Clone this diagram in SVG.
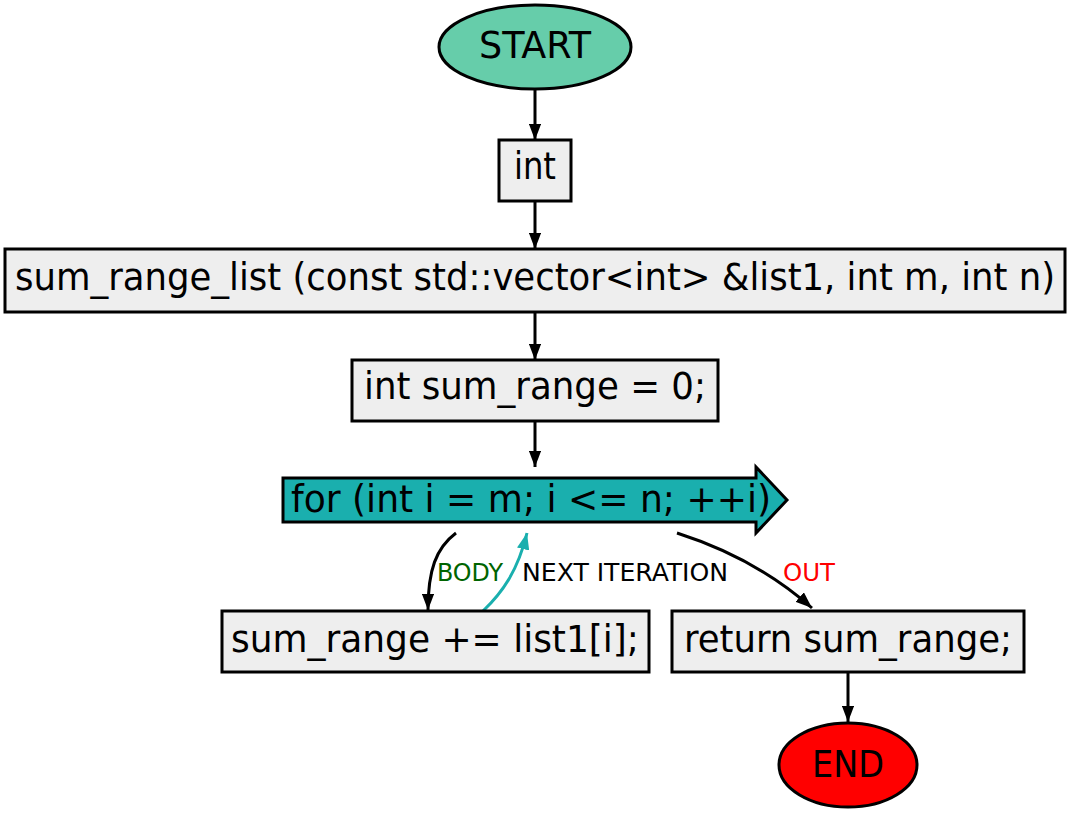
<svg xmlns="http://www.w3.org/2000/svg" width="1070" height="813" viewBox="0 0 1070 813">
  <defs>
    <marker id="arrow" viewBox="0 0 10 10" refX="10" refY="5" markerWidth="5.5" markerHeight="4.2" markerUnits="strokeWidth" orient="auto" preserveAspectRatio="none">
      <path d="M0,0 L10,5 L0,10 z" fill="#000"/>
    </marker>
    <marker id="arrow-teal" viewBox="0 0 10 10" refX="10" refY="5" markerWidth="5.5" markerHeight="4.2" markerUnits="strokeWidth" orient="auto" preserveAspectRatio="none">
      <path d="M0,0 L10,5 L0,10 z" fill="#1aafae"/>
    </marker>
  </defs>
  <style>
    .box { fill: #eeeeee; stroke: #000; stroke-width: 3; }
    .txt { font-family: "DejaVu Sans Condensed", "DejaVu Sans", sans-serif; font-size: 37px; fill: #000; text-anchor: middle; }
    .lbl { font-family: "DejaVu Sans Condensed", "DejaVu Sans", sans-serif; font-size: 25px; }
    .edge { fill: none; stroke: #000; stroke-width: 3; marker-end: url(#arrow); }
    .edge-teal { fill: none; stroke: #1aafae; stroke-width: 3; marker-end: url(#arrow-teal); }
  </style>
  <rect width="1070" height="813" fill="#fff"/>

  <g id="connectors">
    <path class="edge" d="M535,90 L535,140"/>
    <path class="edge" d="M535,201 L535,249"/>
    <path class="edge" d="M535,312 L535,360"/>
    <path class="edge" d="M535,421 L535,467"/>
    <path class="edge" d="M456,533 C436,548 428,570 428,610"/>
    <path class="edge-teal" d="M483,611 C503,592 518,570 527,533"/>
    <path class="edge" d="M677,533 C730,550 775,575 812,608"/>
    <path class="edge" d="M848,672 L848,722"/>
    <text class="lbl" x="437" y="581" fill="#006400" textLength="66" lengthAdjust="spacingAndGlyphs">BODY</text>
    <text class="lbl" x="522" y="581" fill="#000" textLength="206" lengthAdjust="spacingAndGlyphs">NEXT ITERATION</text>
    <text class="lbl" x="783" y="581" fill="#ff0000" textLength="52" lengthAdjust="spacingAndGlyphs">OUT</text>
  </g>

  <g id="start">
    <ellipse cx="535" cy="47" rx="96" ry="42" fill="#66cdaa" stroke="#000" stroke-width="3"/>
    <text class="txt" x="535" y="58" textLength="112" lengthAdjust="spacingAndGlyphs">START</text>
  </g>

  <g id="return-type">
    <rect class="box" x="499" y="140" width="72" height="61"/>
    <text class="txt" x="535" y="179" textLength="42" lengthAdjust="spacingAndGlyphs">int</text>
  </g>

  <g id="signature">
    <rect class="box" x="5" y="249" width="1060" height="63"/>
    <text class="txt" x="535" y="290" textLength="1040" lengthAdjust="spacingAndGlyphs">sum_range_list (const std::vector&lt;int&gt; &amp;list1, int m, int n)</text>
  </g>

  <g id="init">
    <rect class="box" x="352" y="360" width="366" height="61"/>
    <text class="txt" x="535" y="399" textLength="342" lengthAdjust="spacingAndGlyphs">int sum_range = 0;</text>
  </g>

  <g id="loop">
    <path d="M283,478 L756,478 L756,467 L787,500 L756,533 L756,522 L283,522 z" fill="#1aafae" stroke="#000" stroke-width="3" stroke-linejoin="miter"/>
    <text class="txt" x="531" y="512" textLength="480" lengthAdjust="spacingAndGlyphs">for (int i = m; i &lt;= n; ++i)</text>
  </g>

  <g id="body">
    <rect class="box" x="222" y="611" width="427" height="61"/>
    <text class="txt" x="435" y="652" textLength="408" lengthAdjust="spacingAndGlyphs">sum_range += list1[i];</text>
  </g>

  <g id="return">
    <rect class="box" x="672" y="611" width="352" height="61"/>
    <text class="txt" x="848" y="652" textLength="328" lengthAdjust="spacingAndGlyphs">return sum_range;</text>
  </g>

  <g id="end">
    <ellipse cx="848" cy="765" rx="69" ry="42" fill="#ff0000" stroke="#000" stroke-width="3"/>
    <text class="txt" x="848" y="777" textLength="72" lengthAdjust="spacingAndGlyphs">END</text>
  </g>
</svg>
